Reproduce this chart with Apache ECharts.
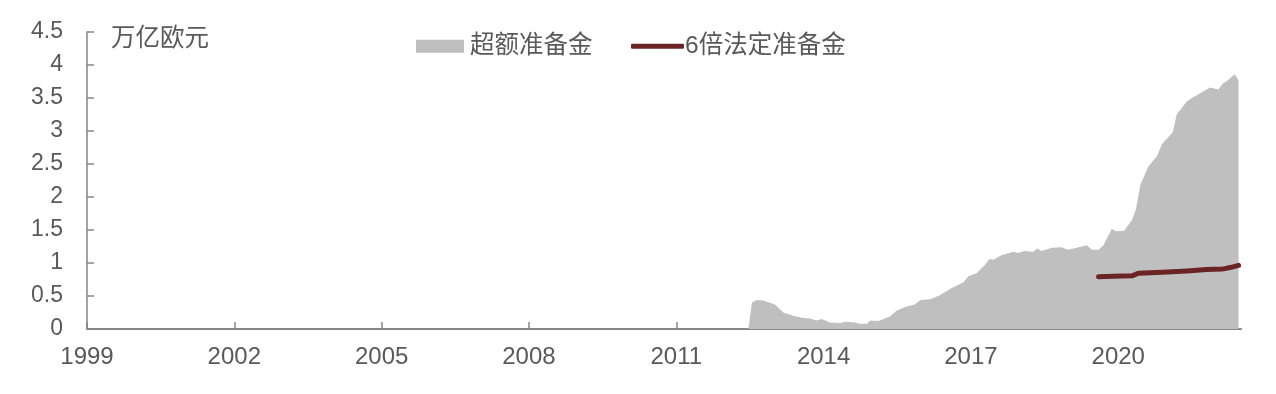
<!DOCTYPE html>
<html>
<head>
<meta charset="utf-8">
<script src="https://cdn.jsdelivr.net/npm/echarts@6/dist/echarts.min.js"></script>
<style>html,body{margin:0;padding:0;background:#fff;}#c{width:1276px;height:394px;}</style>
</head>
<body>
<div id="c"></div>
<script>
// Excess reserves (trillion EUR): decimal year and value
const excessYears = [2012.47,2012.54,2012.64,2012.77,2013.01,2013.18,2013.38,2013.56,2013.72,2013.86,2013.96,2014.13,2014.34,2014.44,2014.64,2014.74,2014.88,2014.95,2015.12,2015.22,2015.35,2015.49,2015.69,2015.86,2015.97,2016.17,2016.37,2016.61,2016.85,2016.95,2017.12,2017.26,2017.38,2017.46,2017.63,2017.73,2017.87,2017.95,2018.10,2018.27,2018.35,2018.44,2018.65,2018.85,2018.97,2019.16,2019.36,2019.46,2019.60,2019.70,2019.87,2019.95,2020.12,2020.28,2020.36,2020.45,2020.61,2020.79,2020.89,2021.11,2021.19,2021.40,2021.50,2021.87,2022.04,2022.13,2022.22,2022.37,2022.45];
const excessValues = [0,0.40,0.44,0.43,0.37,0.25,0.20,0.17,0.16,0.13,0.15,0.10,0.09,0.11,0.10,0.08,0.08,0.13,0.12,0.15,0.19,0.28,0.34,0.37,0.44,0.45,0.51,0.62,0.71,0.80,0.85,0.95,1.06,1.05,1.12,1.14,1.17,1.15,1.18,1.17,1.22,1.18,1.23,1.24,1.20,1.23,1.27,1.20,1.20,1.27,1.52,1.48,1.49,1.65,1.81,2.18,2.46,2.62,2.80,2.98,3.25,3.45,3.50,3.66,3.63,3.72,3.76,3.86,3.77];
// Six times required reserves
const reqYears = [2019.60,2019.90,2020.28,2020.41,2020.90,2021.40,2021.80,2022.11,2022.17,2022.30,2022.45];
const reqValues = [0.79,0.80,0.805,0.845,0.86,0.88,0.90,0.91,0.915,0.935,0.965];
const xTickLabels = [1999,2002,2005,2008,2011,2014,2017,2020];
const seriesNames = ['超额准备金','6倍法定准备金'];
const unitLabel = '万亿欧元';

const FONT = '"Liberation Sans", Arial, "Noto Sans CJK SC", sans-serif';
const TXT = '#595959';
const AX = '#868686';

const chart = echarts.init(document.getElementById('c'));
chart.setOption({
  animation: false,
  backgroundColor: '#fff',
  textStyle: {fontFamily: FONT},
  grid: {left: 87, right: 35, top: 32, bottom: 65, containLabel: false},
  legend: [
    {left: 416, top: 34, padding: 0, itemWidth: 48, itemHeight: 13, itemGap: 0,
     data: [{name: seriesNames[0], icon: 'rect'}],
     textStyle: {fontSize: 24.5, color: TXT, fontFamily: FONT, padding: [0,0,0,1]}},
    {left: 631, top: 34, padding: 0, itemWidth: 53, itemHeight: 5, itemGap: 0,
     data: [{name: seriesNames[1], icon: 'roundRect'}],
     textStyle: {fontSize: 24.5, color: TXT, fontFamily: FONT, padding: [0,0,0,-4]}}
  ],
  graphic: [{type: 'text', left: 111, top: 27,
    style: {text: unitLabel, fontSize: 24.5, fill: TXT, fontFamily: FONT}}],
  xAxis: {
    type: 'value', min: 1999, max: 2022.5,
    splitLine: {show: false},
    axisLine: {lineStyle: {color: AX, width: 2}},
    axisTick: {inside: true, length: 7, lineStyle: {color: AX, width: 1.5}, customValues: xTickLabels},
    axisLabel: {customValues: xTickLabels, color: TXT, fontSize: 24, margin: 16, fontFamily: FONT,
      formatter: v => String(Math.round(v))}
  },
  yAxis: {
    type: 'value', min: 0, max: 4.5, interval: 0.5,
    splitLine: {show: false},
    axisLine: {show: true, lineStyle: {color: AX, width: 1.5}},
    axisTick: {show: true, inside: true, length: 7, lineStyle: {color: AX, width: 1.5}},
    axisLabel: {color: TXT, fontSize: 23, margin: 24, fontFamily: FONT}
  },
  series: [
    {name: seriesNames[0], type: 'line', symbol: 'none', smooth: false,
     color: '#bfbfbf',
     lineStyle: {width: 0, color: '#bfbfbf'},
     areaStyle: {color: '#bfbfbf', opacity: 1},
     data: excessYears.map((y, i) => [y, excessValues[i]])},
    {name: seriesNames[1], type: 'line', symbol: 'none', smooth: false,
     color: '#6b2424',
     lineStyle: {width: 5, color: '#6b2424', cap: 'round', join: 'round'},
     data: reqYears.map((y, i) => [y, reqValues[i]])}
  ]
});
</script>
</body>
</html>
